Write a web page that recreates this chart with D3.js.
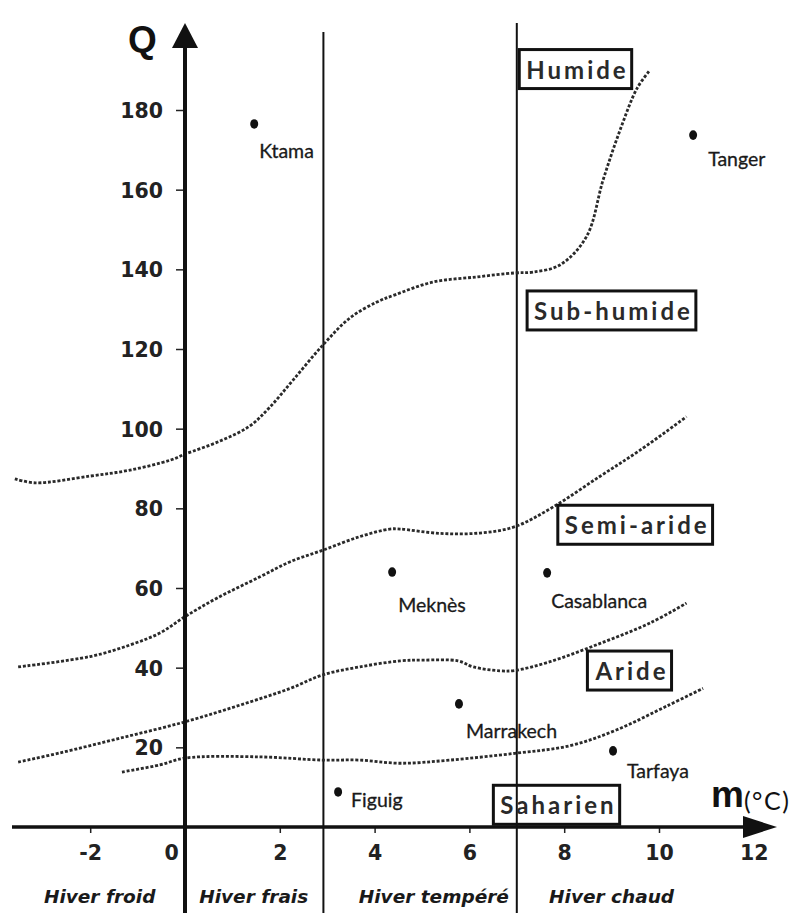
<!DOCTYPE html>
<html>
<head>
<meta charset="utf-8">
<script src="https://cdn.jsdelivr.net/npm/d3@7"></script>
<style>
  body { margin: 0; background: #fff; }
  svg { display: block; }
</style>
</head>
<body>
<svg id="chart" width="801" height="913"></svg>
<script>
// m (°C) on x, Q on y
let xTicks = [-2, 0, 2, 4, 6, 8, 10, 12];
let yTicks = [20, 40, 60, 80, 100, 120, 140, 160, 180];

// winter type boundaries and zone labels
let winterBounds = [2.92, 7];
let winterNames = ["Hiver froid", "Hiver frais", "Hiver tempéré", "Hiver chaud"];
let winterCenters = [-1.8, 1.45, 5.25, 9.0];

// boundary curves [m, Q]
let curveHumide = [[-3.59, 87.4], [-3.16, 86.4], [-2.0, 88.1], [-1.16, 89.6], [-0.31, 92.1], [0, 93.6], [0.74, 96.9], [1.37, 100.7], [1.79, 105.4], [2.28, 112.2], [2.91, 121], [3.48, 127.8], [4.05, 131.8], [4.43, 133.6], [5.23, 136.8], [6.16, 138.1], [6.96, 139.1], [7.34, 139.3], [7.91, 141.1], [8.47, 148.2], [8.82, 162.4], [9.18, 175], [9.54, 185.5], [9.81, 190]];
let curveSubHumide = [[-3.52, 40.2], [-2.0, 42.8], [-1.16, 45.7], [-0.53, 48.7], [0, 52.8], [0.68, 57.5], [1.58, 62.8], [2.22, 66.6], [2.91, 69.5], [3.69, 72.9], [4.32, 74.8], [4.54, 74.8], [5.38, 73.7], [6.22, 73.8], [6.96, 75.4], [7.76, 80.3], [8.75, 88], [9.6, 94.6], [10.58, 103]];
let curveSemiAride = [[-3.52, 16.3], [-2.64, 18.6], [-1.37, 22.3], [0, 26.4], [1.16, 30.6], [2.22, 34.8], [2.91, 38.2], [3.69, 40.2], [4.54, 41.7], [5.02, 41.9], [5.76, 41.7], [6.08, 40.2], [6.65, 39.2], [6.96, 39.3], [7.7, 41.5], [8.76, 46.1], [9.81, 51.2], [10.58, 56.2]];
let curveAride = [[-1.33, 13.8], [-0.53, 15.6], [0, 17.3], [1.58, 17.6], [2.91, 16.8], [3.69, 16.8], [4.54, 16], [5.59, 16.8], [6.96, 18.5], [8.12, 20.4], [9.11, 24.4], [10.17, 30.4], [10.93, 34.8]];
let curves = [curveHumide, curveSubHumide, curveSemiAride, curveAride];

// bioclimatic stages (label centre in m, Q)
let stageNames = ["Humide", "Sub-humide", "Semi-aride", "Aride", "Saharien"];
let stageM = [8.28, 9.04, 9.54, 9.43, 7.88];
let stageQ = [190, 129.4, 75.6, 39, 5.3];

// stations
let cities = ["Ktama", "Tanger", "Meknès", "Casablanca", "Marrakech", "Tarfaya", "Figuig"];
let cityM = [1.46, 10.72, 4.37, 7.64, 5.78, 9.03, 3.23];
let cityQ = [176.5, 173.7, 64.0, 63.8, 30.9, 19.1, 8.8];

// label nudges (px) relative to each dot
let labelDx = [5, 15, 6, 4, 7, 14, 13];
let labelDy = [34, 31, 40, 35, 34, 27, 15];

let svg = d3.select("#chart");

let x = d3.scaleLinear().domain([0, 10]).range([185, 659]);
let y = d3.scaleLinear().domain([0, 180]).range([827, 110]);

let axisY = y(0), axisX = x(0);
let bottom = 913;

// vertical winter boundaries
svg.append("g")
  .selectAll("line")
  .data(winterBounds)
  .join("line")
  .attr("x1", d => x(d)).attr("x2", d => x(d))
  .attr("y1", (d, i) => i === 0 ? 32 : 23)
  .attr("y2", bottom)
  .attr("stroke", "#111")
  .attr("stroke-width", 2);

// winter labels
svg.append("g")
  .selectAll("text")
  .data(winterNames)
  .join("text")
  .attr("x", (d, i) => x(winterCenters[i]))
  .attr("y", 903)
  .attr("text-anchor", "middle")
  .attr("font-family", "DejaVu Sans")
  .attr("font-weight", "bold")
  .attr("font-style", "italic")
  .attr("font-size", 18.5)
  .attr("fill", "#1a1a1a")
  .text(d => d);

// boundary curves
let line = d3.line()
  .x(d => x(d[0]))
  .y(d => y(d[1]))
  .curve(d3.curveCatmullRom);

svg.append("g")
  .selectAll("path")
  .data(curves)
  .join("path")
  .attr("d", line)
  .attr("fill", "none")
  .attr("stroke", "#2a2a2a")
  .attr("stroke-width", 2.8)
  .attr("stroke-dasharray", "3,1.8");

// y axis
let yAxis = svg.append("g")
  .attr("transform", `translate(${axisX},0)`)
  .call(d3.axisLeft(y).tickValues(yTicks).tickSize(9).tickPadding(13));
yAxis.select(".domain").remove();
yAxis.selectAll(".tick line").attr("stroke", "#222").attr("stroke-width", 1.5);
yAxis.selectAll(".tick text")
  .attr("font-family", "DejaVu Sans")
  .attr("font-weight", "bold")
  .attr("font-size", 20.5)
  .attr("fill", "#222")
  .attr("dy", "0.36em");

// x axis
let xAxis = svg.append("g")
  .attr("transform", `translate(0,${axisY})`)
  .call(d3.axisBottom(x).tickValues(xTicks).tickSize(6).tickPadding(12).tickFormat(d3.format("d")));
xAxis.select(".domain").remove();
xAxis.selectAll(".tick line").attr("stroke", "#222").attr("stroke-width", 1.5)
  .filter(d => d === 0).remove();
xAxis.selectAll(".tick text")
  .attr("font-family", "DejaVu Sans")
  .attr("font-weight", "bold")
  .attr("font-size", 20.5)
  .attr("fill", "#222")
  .attr("x", d => d === 0 ? -14 : 0)
  .text(d => d < 0 ? "-" + Math.abs(d) : d);

// axis lines + arrows
svg.append("line")
  .attr("x1", axisX).attr("x2", axisX)
  .attr("y1", 40).attr("y2", bottom)
  .attr("stroke", "#111").attr("stroke-width", 4);
svg.append("path")
  .attr("d", `M${axisX},23 L${axisX - 13},48 L${axisX + 13},48 Z`)
  .attr("fill", "#111");
svg.append("line")
  .attr("x1", 12).attr("x2", 760)
  .attr("y1", axisY).attr("y2", axisY)
  .attr("stroke", "#111").attr("stroke-width", 3.5);
svg.append("path")
  .attr("d", `M777,${axisY} L743,${axisY - 11} L743,${axisY + 11} Z`)
  .attr("fill", "#111");

// axis titles
svg.append("text")
  .attr("x", 128).attr("y", 52)
  .attr("font-family", "Liberation Sans")
  .attr("font-weight", "bold")
  .attr("font-size", 37)
  .attr("fill", "#111")
  .text("Q");

let mTitle = svg.append("text")
  .attr("x", 711).attr("y", 807)
  .attr("font-family", "Liberation Sans")
  .attr("fill", "#111");
mTitle.append("tspan").attr("font-weight", "bold").attr("font-size", 37).text("m");
mTitle.append("tspan")
  .attr("font-size", 25)
  .attr("font-family", "Lato")
  .attr("letter-spacing", 1.5)
  .attr("dy", 3)
  .text("(°C)");

// stage boxes
let stages = svg.append("g")
  .selectAll("g")
  .data(stageNames)
  .join("g")
  .attr("transform", (d, i) => `translate(${x(stageM[i])},${y(stageQ[i])})`);

stages.append("text")
  .attr("text-anchor", "middle")
  .attr("dy", "0.35em")
  .attr("font-family", "Lato")
  .attr("font-weight", "bold")
  .attr("font-size", 24)
  .attr("letter-spacing", 3)
  .attr("fill", "#2a2a2a")
  .text(d => d);

stages.each(function() {
  let g = d3.select(this);
  let bb = g.select("text").node().getBBox();
  g.insert("rect", "text")
    .attr("x", bb.x - 7)
    .attr("y", bb.y - 5)
    .attr("width", bb.width + 10)
    .attr("height", bb.height + 10)
    .attr("fill", "none")
    .attr("stroke", "#111")
    .attr("stroke-width", 3);
});

// stations
let cityG = svg.append("g")
  .selectAll("g")
  .data(cities)
  .join("g")
  .attr("transform", (d, i) => `translate(${x(cityM[i])},${y(cityQ[i])})`);

cityG.append("ellipse")
  .attr("rx", 4)
  .attr("ry", 4.8)
  .attr("fill", "#111");

cityG.append("text")
  .attr("x", (d, i) => labelDx[i])
  .attr("y", (d, i) => labelDy[i])
  .attr("font-family", "Lato")
  .attr("font-size", 19.5)
  .attr("fill", "#1a1a1a")
  .attr("stroke", "#1a1a1a")
  .attr("stroke-width", 0.3)
  .text(d => d);
</script>
</body>
</html>
